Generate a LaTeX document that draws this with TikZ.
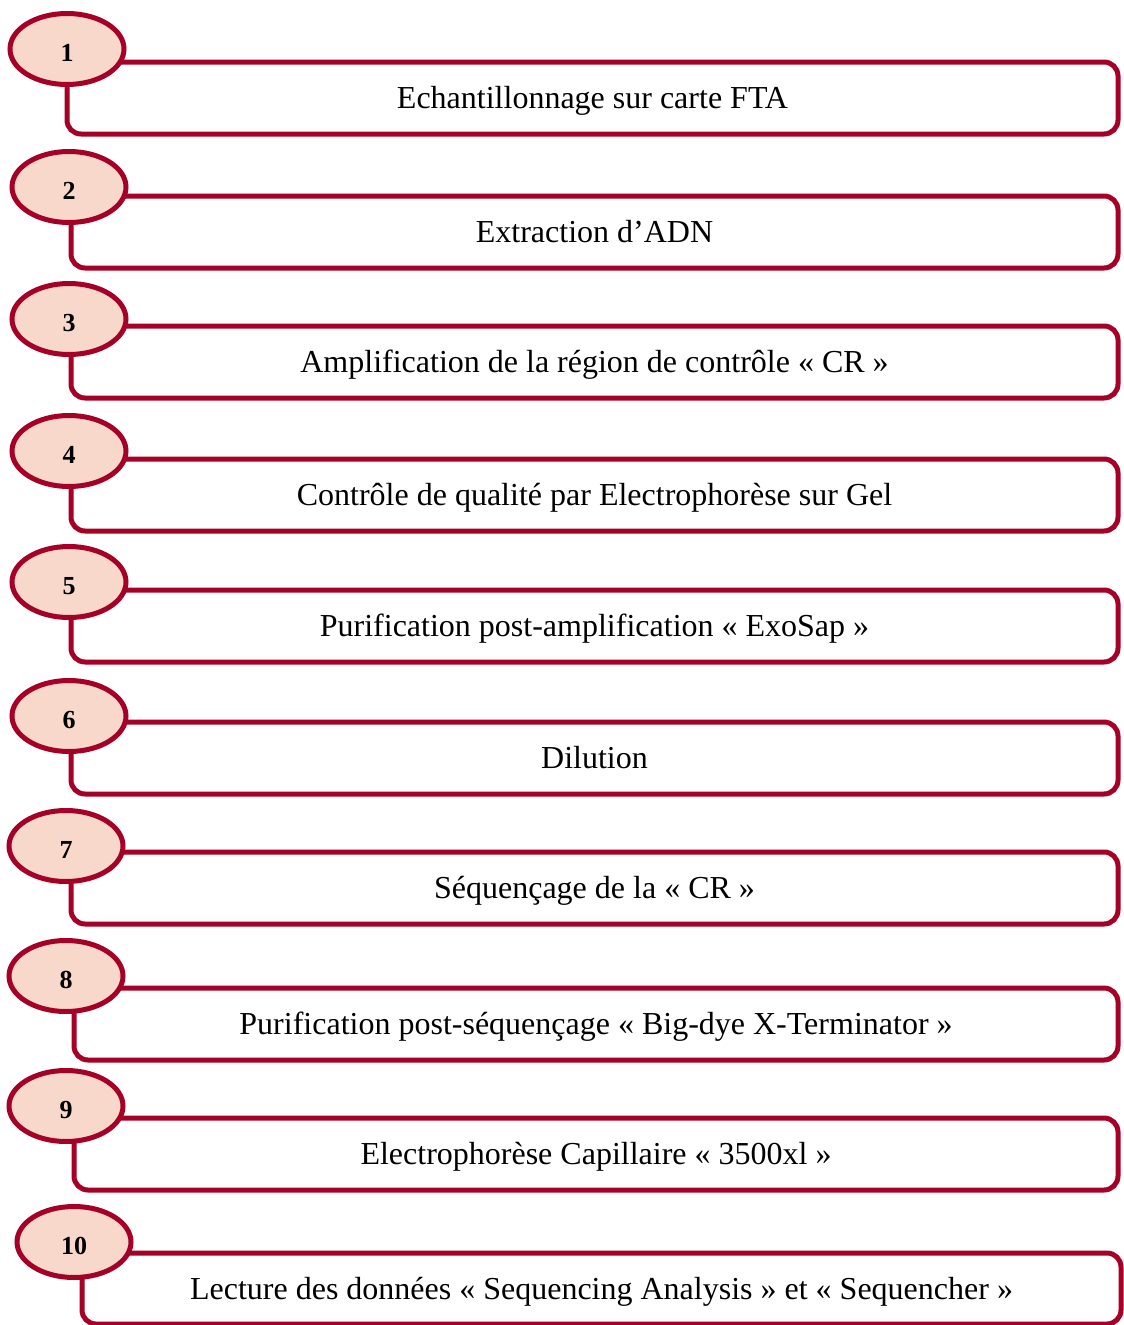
\documentclass[tikz,border=0pt]{standalone}
\usepackage{fontspec}
\setmainfont{Liberation Serif}
\usetikzlibrary{shapes.geometric}
\definecolor{stepred}{HTML}{A50026}
\definecolor{stepfill}{HTML}{F8D8CA}
\newcommand{\stepdigit}[1]{\raisebox{-12.3pt}[0pt][0pt]{#1}}
\tikzset{
  stepbox/.style={draw=stepred, line width=5pt, rounded corners=14pt, inner sep=0pt, outer sep=0pt,
    anchor=north west, font=\fontsize{32}{38}\selectfont, text=black, text height=28pt, text depth=7pt},
  stepnum/.style={ellipse, draw=stepred, fill=stepfill, line width=5pt, inner sep=0pt, outer sep=0pt,
    minimum width=114pt, minimum height=71pt, font=\bfseries\fontsize{26}{30}\selectfont}
}
\begin{document}
\begin{tikzpicture}[x=1pt,y=-1pt]
\useasboundingbox (0,0) rectangle (1124,1325);
% boxes: left, top
\node[stepbox, minimum width=1051pt, minimum height=72pt] (b1) at (67,62) {Echantillonnage sur carte FTA};
\node[stepbox, minimum width=1047pt, minimum height=72pt] (b2) at (71,196) {Extraction d’ADN};
\node[stepbox, minimum width=1047pt, minimum height=72pt] (b3) at (71,326) {Amplification de la région de contrôle « CR »};
\node[stepbox, minimum width=1047pt, minimum height=72pt] (b4) at (71,459) {Contrôle de qualité par Electrophorèse sur Gel};
\node[stepbox, minimum width=1047pt, minimum height=72pt] (b5) at (71,590) {Purification post-amplification « ExoSap »};
\node[stepbox, minimum width=1047pt, minimum height=72pt] (b6) at (71,722) {Dilution};
\node[stepbox, minimum width=1047pt, minimum height=72pt] (b7) at (71,852) {Séquençage de la « CR »};
\node[stepbox, minimum width=1044pt, minimum height=72pt] (b8) at (74,988) {Purification post-séquençage « Big-dye X-Terminator »};
\node[stepbox, minimum width=1044pt, minimum height=72pt] (b9) at (74,1118) {Electrophorèse Capillaire « 3500xl »};
\node[stepbox, minimum width=1039pt, minimum height=71pt] (b10) at (82,1253) {Lecture des données « Sequencing Analysis » et « Sequencher »};
% numbers
\node[stepnum] (e1) at (67,49) {\stepdigit{1}};
\node[stepnum] (e2) at (69,187) {\stepdigit{2}};
\node[stepnum] (e3) at (69,319) {\stepdigit{3}};
\node[stepnum] (e4) at (69,451) {\stepdigit{4}};
\node[stepnum] (e5) at (69,582) {\stepdigit{5}};
\node[stepnum] (e6) at (69,716) {\stepdigit{6}};
\node[stepnum] (e7) at (66,846) {\stepdigit{7}};
\node[stepnum] (e8) at (66,976) {\stepdigit{8}};
\node[stepnum] (e9) at (66,1106) {\stepdigit{9}};
\node[stepnum] (e10) at (74,1242) {\stepdigit{10}};
\end{tikzpicture}
\end{document}
